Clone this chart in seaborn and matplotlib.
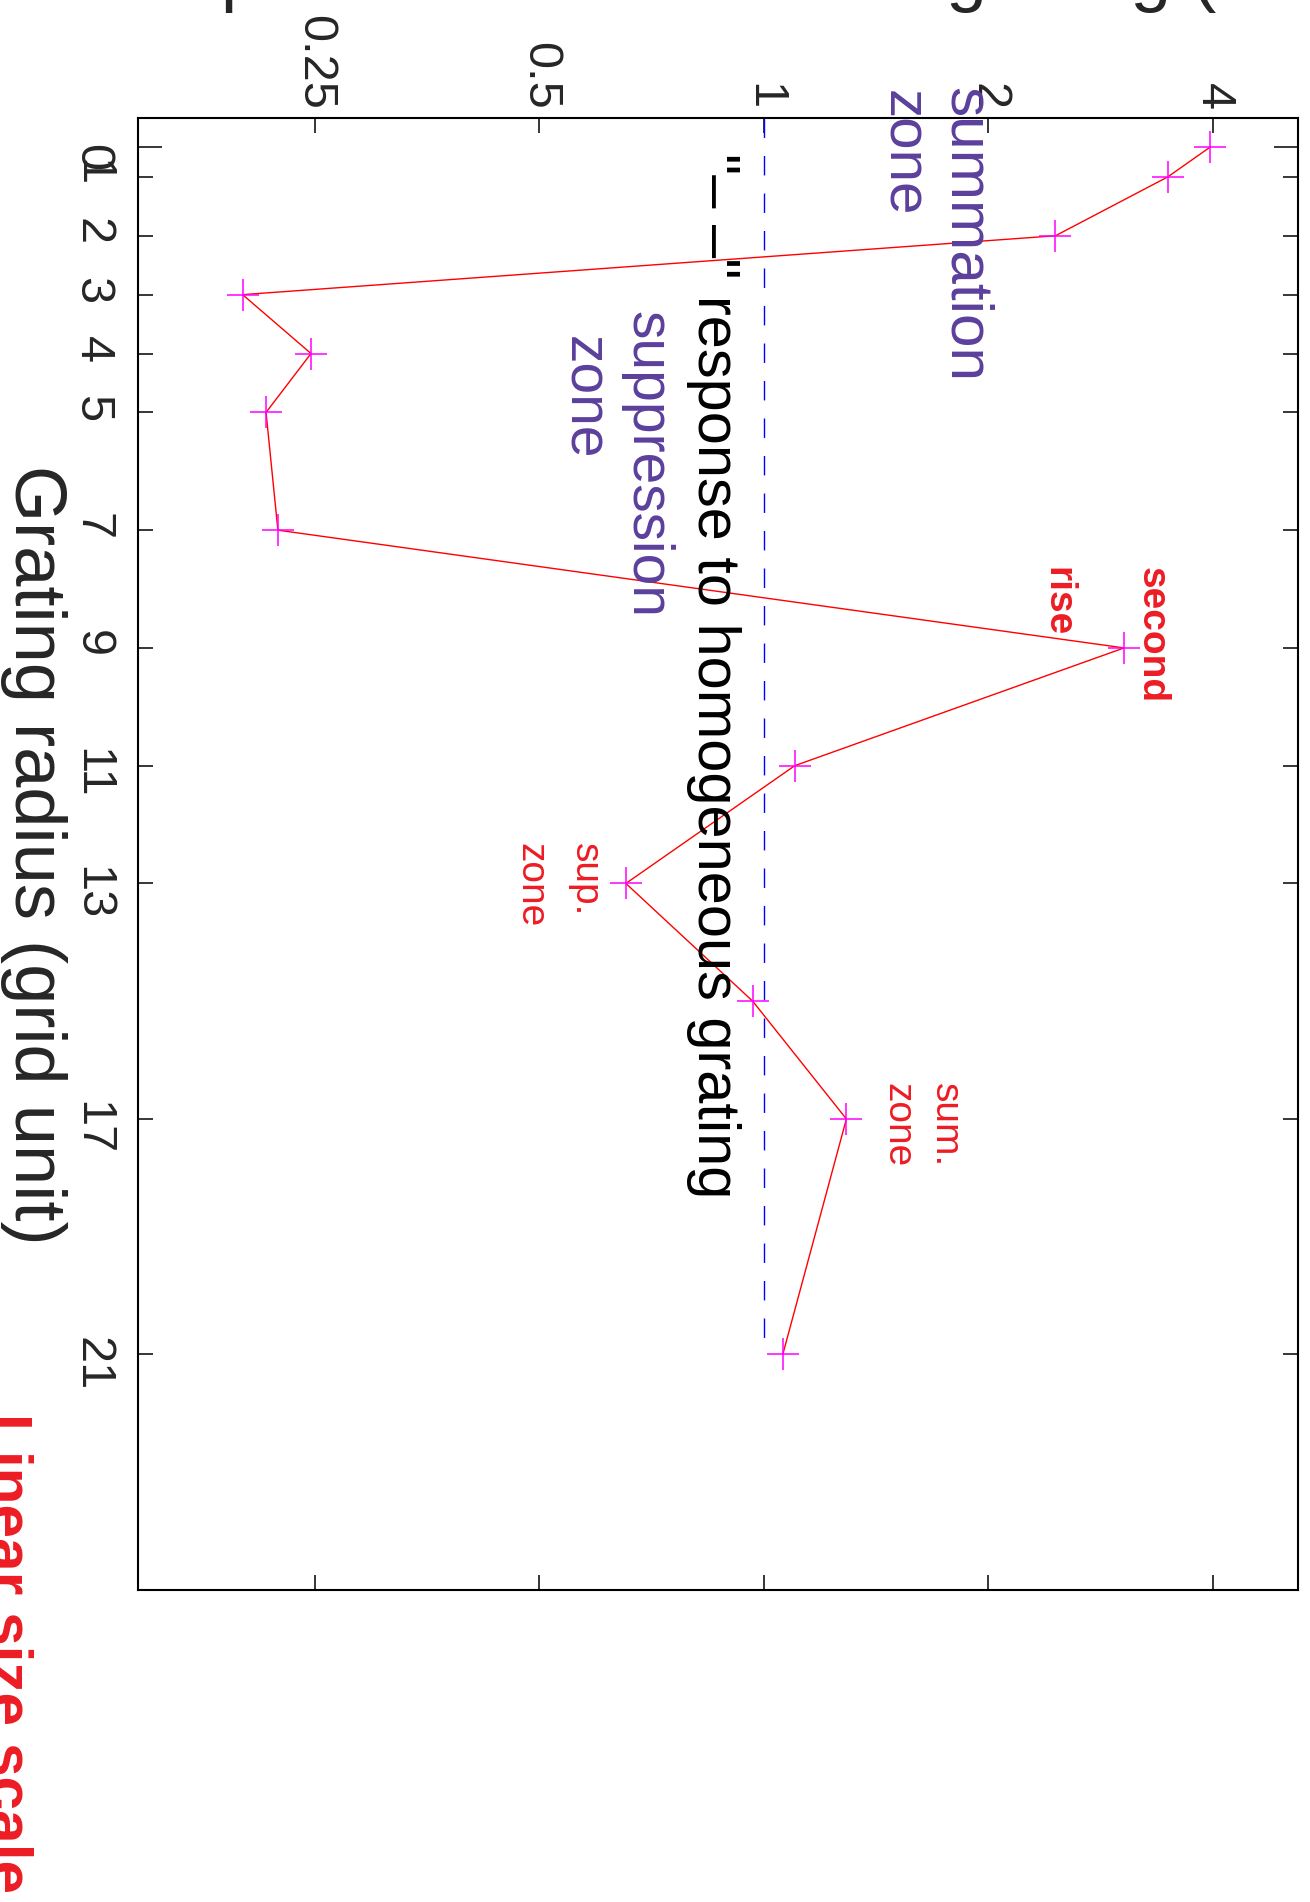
import matplotlib
matplotlib.use("Agg")
import matplotlib.pyplot as plt
import matplotlib.transforms as mtransforms
from matplotlib.ticker import FixedLocator, NullLocator
import pandas as pd
import seaborn as sns

# grating radius (grid units) vs response relative to the homogeneous grating
radius = [0.5, 1, 2, 3, 4, 5, 7, 9, 11, 13, 15, 17, 21]
response = [3.96, 3.48, 2.46, 0.20, 0.247, 0.215, 0.223, 3.04, 1.10, 0.653, 0.966, 1.29, 1.06]

radius_ticks = [1, 2, 3, 4, 5, 7, 9, 11, 13, 17, 21]
radius_labels = ["1", "2", "3", "4", "5", "7", "9", "11", "13", "17", "21"]
first_tick = [0.5]
first_label = ["0"]
resp_ticks = [0.25, 0.5, 1, 2, 4]
resp_labels = ["0.25", "0.5", "1", "2", "4"]
ref_level = 1.0
ref_span = (0, 21)

df = pd.DataFrame({"radius": radius, "response": response})

sns.set_style("white")
plt.rcParams["font.family"] = ["Liberation Sans", "DejaVu Sans"]

W, H = 1310, 1902
fig = plt.figure(figsize=(W / 100, H / 100), dpi=100)
ax = fig.add_axes([138 / W, 1 - 1590 / H, (1298 - 138) / W, (1590 - 118) / H])

purple = "#5b3f9c"
red_txt = "#ec1c24"

ax.vlines(ref_level, ref_span[0], ref_span[1], colors="#0000ff",
          linestyles=(0, (14, 13)), linewidth=1.0)
sns.lineplot(data=df, x="response", y="radius", sort=False, ax=ax,
             color="#ff0000", linewidth=1.0, marker="+", markersize=23,
             markeredgecolor="#ff00ff", markeredgewidth=1.1)

ax.set_xscale("log", base=2)
ax.set_xlim(2 ** -2.788, 2 ** 2.379)
ax.set_ylim(25, 0)

ax.xaxis.set_major_locator(FixedLocator(resp_ticks))
ax.set_xticklabels(resp_labels)
ax.xaxis.set_minor_locator(NullLocator())
ax.yaxis.set_major_locator(FixedLocator(radius_ticks))
ax.set_yticklabels(radius_labels)
ax.yaxis.set_minor_locator(FixedLocator(first_tick))
ax.set_yticklabels(first_label, minor=True)

ax.tick_params(axis="both", which="both", direction="in", top=True, bottom=True,
               left=True, right=True, width=1.1, color="black", labelsize=35)
ax.tick_params(which="major", length=11)
ax.tick_params(axis="y", which="minor", length=17)
ax.tick_params(axis="x", labeltop=True, labelbottom=False, labelrotation=270, pad=6)
ax.tick_params(axis="y", which="both", labelrotation=270, pad=17)
shift = mtransforms.ScaledTranslation(0, -0.14, fig.dpi_scale_trans)
for lab in ax.yaxis.get_minorticklabels():
    lab.set_transform(lab.get_transform() + shift)

for s in ax.spines.values():
    s.set_linewidth(1.5)
    s.set_color("black")
ax.set_xlabel("")
ax.set_ylabel("")

rot = dict(rotation=270, rotation_mode="anchor", ha="left", va="baseline")
ax.text(1.776, -0.52, "summation", color=purple, fontsize=43.5, **rot)
ax.text(1.462, -0.48, "zone", color=purple, fontsize=42, **rot)
ax.text(0.665, 3.285, "suppression", color=purple, fontsize=41, **rot)
ax.text(0.546, 3.696, "zone", color=purple, fontsize=41, **rot)
ax.text(0.816, 0.594, '"\u2013 \u2013" response to homogeneous grating', color="black",
        fontsize=42.8, **rot)
ax.text(3.213, 7.626, "second", color=red_txt, fontsize=28, fontweight="bold", **rot)
ax.text(2.396, 7.626, "rise", color=red_txt, fontsize=28, fontweight="bold", **rot)
ax.text(0.558, 12.31, "sup.", color=red_txt, fontsize=28, **rot)
ax.text(0.472, 12.31, "zone", color=red_txt, fontsize=28, **rot)
ax.text(1.695, 16.39, "sum.", color=red_txt, fontsize=28, **rot)
ax.text(1.462, 16.39, "zone", color=red_txt, fontsize=28, **rot)

fig.text(15 / W, 1 - 855 / H, "Grating radius (grid unit)", fontsize=52,
         rotation=270, rotation_mode="anchor", ha="center", va="baseline")
fig.text(-10 / W, 1 - 1413 / H, "Linear size scale", fontsize=43.5, color=red_txt,
         fontweight="bold", rotation=270, rotation_mode="anchor", ha="left", va="baseline")
fig.text(90 / W, 1 + 2 / H, "Response ratio relative to grating (normalized)", fontsize=53,
         ha="left", va="baseline")

fig.savefig("out.png", dpi=100, facecolor="white")
